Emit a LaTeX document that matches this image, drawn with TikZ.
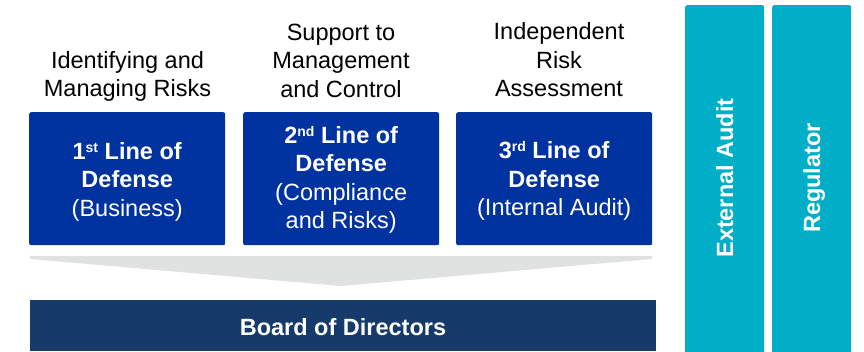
\documentclass[tikz,border=0pt]{standalone}
\usepackage{fontspec}
\setmainfont{Liberation Sans}
\definecolor{lodblue}{HTML}{0033A0}
\definecolor{boardblue}{HTML}{163B6A}
\definecolor{tealcol}{HTML}{00AEC7}
\definecolor{chevgray}{HTML}{E0E2E1}
\newcommand{\lodsup}[1]{\raisebox{7pt}{\fontsize{14}{14}\selectfont #1}}
\begin{document}
\begin{tikzpicture}[x=1pt,y=-1pt,
  lodbox/.style={fill=lodblue, draw=none, rounded corners=2pt, minimum width=196pt, minimum height=133pt, inner sep=0pt, anchor=north west},
  colbox/.style={fill=tealcol, draw=none, rounded corners=2pt, minimum width=79pt, minimum height=350pt, inner sep=0pt, anchor=north west},
  headtxt/.style={font=\fontsize{23.5}{28.5}\selectfont, text=black, align=center, inner sep=0pt, anchor=north},
  boxtxt/.style={font=\fontsize{23.5}{28.5}\selectfont, text=white, align=center, inner sep=0pt, anchor=north},
  vtxt/.style={font=\fontsize{23.5}{28.5}\selectfont\bfseries, text=white, inner sep=0pt, text height=17pt, text depth=0pt, rotate=90, anchor=center}]
\useasboundingbox (0,0) rectangle (864,351);
% headers
\node[headtxt] (h1) at (127.5,48) {\strut Identifying and\\\strut Managing Risks};
\node[headtxt] (h2) at (341,20) {\strut Support to\\\strut Management\\\strut and Control};
\node[headtxt] (h3) at (559,19.5) {\strut Independent\\\strut Risk\\\strut Assessment};
% line-of-defense boxes
\node[lodbox] (b1) at (29,112) {};
\node[lodbox] (b2) at (243,112) {};
\node[lodbox] (b3) at (456,112) {};
\node[boxtxt] (t1) at (b1.center |- 0,139) {\strut\textbf{1\lodsup{st} Line of}\\\strut\textbf{Defense}\\\strut (Business)};
\node[boxtxt] (t2) at (b2.center |- 0,123.3) {\strut\textbf{2\lodsup{nd} Line of}\\\strut\textbf{Defense}\\\strut (Compliance\\\strut and Risks)};
\node[boxtxt] (t3) at (b3.center |- 0,138.4) {\strut\textbf{3\lodsup{rd} Line of}\\\strut\textbf{Defense}\\\strut (Internal Audit)};
% chevron
\fill[chevgray] (30,256) -- (652,256) -- (652,259) -- (341,286) -- (30,259) -- cycle;
% board
\node[fill=boardblue, draw=none, minimum width=626pt, minimum height=51pt, inner sep=0pt, anchor=north west] (board) at (30,300) {};
\node[font=\fontsize{23.5}{28.5}\selectfont\bfseries, text=white, inner sep=0pt, text height=17pt, text depth=0pt] (boardt) at (343,326.7) {Board of Directors};
% right columns
\node[colbox] (ext) at (685,5) {};
\node[colbox] (reg) at (772,5) {};
\node[vtxt] (extt) at (724.5,178) {External Audit};
\node[vtxt] (regt) at (811.5,178) {Regulator};
\end{tikzpicture}
\end{document}
